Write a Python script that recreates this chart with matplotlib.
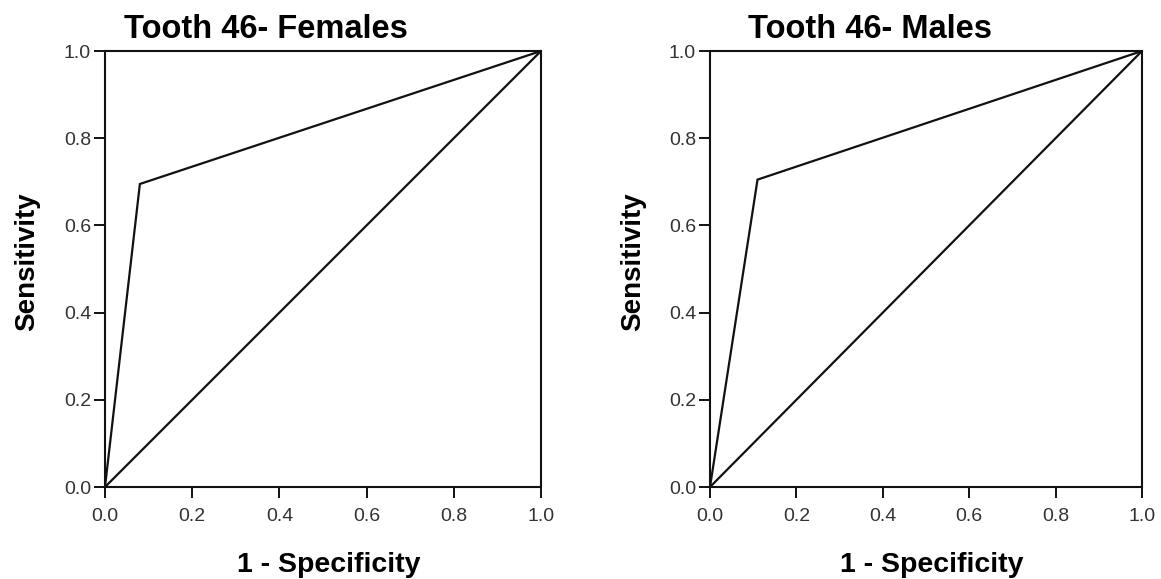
import matplotlib
matplotlib.use('Agg')
import matplotlib.pyplot as plt

plt.rcParams['font.family'] = ['Liberation Sans', 'DejaVu Sans']

titles = ['Tooth 46- Females', 'Tooth 46- Males']
# ROC points (1 - specificity, sensitivity)
fem_x = [0.0, 0.08, 1.0]
fem_y = [0.0, 0.695, 1.0]
mal_x = [0.0, 0.11, 1.0]
mal_y = [0.0, 0.705, 1.0]
ref_line = [0.0, 1.0]
ticks = [0.0, 0.2, 0.4, 0.6, 0.8, 1.0]

fig = plt.figure(figsize=(11.61, 5.79), dpi=100)
W, H = 1161, 579
boxes = [(105, 51, 541, 487), (710, 51, 1142, 487)]
curves = [(fem_x, fem_y), (mal_x, mal_y)]

for (x0, y0, x1, y1), (cx, cy), title in zip(boxes, curves, titles):
    ax = fig.add_axes([x0 / W, 1 - y1 / H, (x1 - x0) / W, (y1 - y0) / H])
    ax.plot(cx, cy, color='#111111', lw=1.6, solid_joinstyle='miter')
    ax.plot(ref_line, ref_line, color='#111111', lw=1.6)
    ax.set_xlim(0, 1)
    ax.set_ylim(0, 1)
    ax.set_xticks(ticks)
    ax.set_yticks(ticks)
    ax.set_xticklabels(['%.1f' % t for t in ticks])
    ax.set_yticklabels(['%.1f' % t for t in ticks])
    ax.tick_params(direction='out', length=8, width=1.4, labelsize=14,
                   colors='#111111', labelcolor='#333333')
    ax.tick_params(axis='x', pad=7)
    ax.tick_params(axis='y', pad=2)
    for s in ax.spines.values():
        s.set_linewidth(1.5)
        s.set_color('#111111')
    ax.set_xlabel('1 - Specificity', fontsize=20.5, fontweight='bold', va='center')
    ax.xaxis.set_label_coords(0.514, -0.178)
    ax.set_ylabel('Sensitivity', fontsize=20, fontweight='bold', va='center')
    ax.yaxis.set_label_coords(-0.178, 0.516)
    ax.text(0.37, 1.0 + 21 / (y1 - y0), title, transform=ax.transAxes,
            fontsize=23.5, fontweight='bold', ha='center', va='center')

fig.savefig('out.png', dpi=100)
